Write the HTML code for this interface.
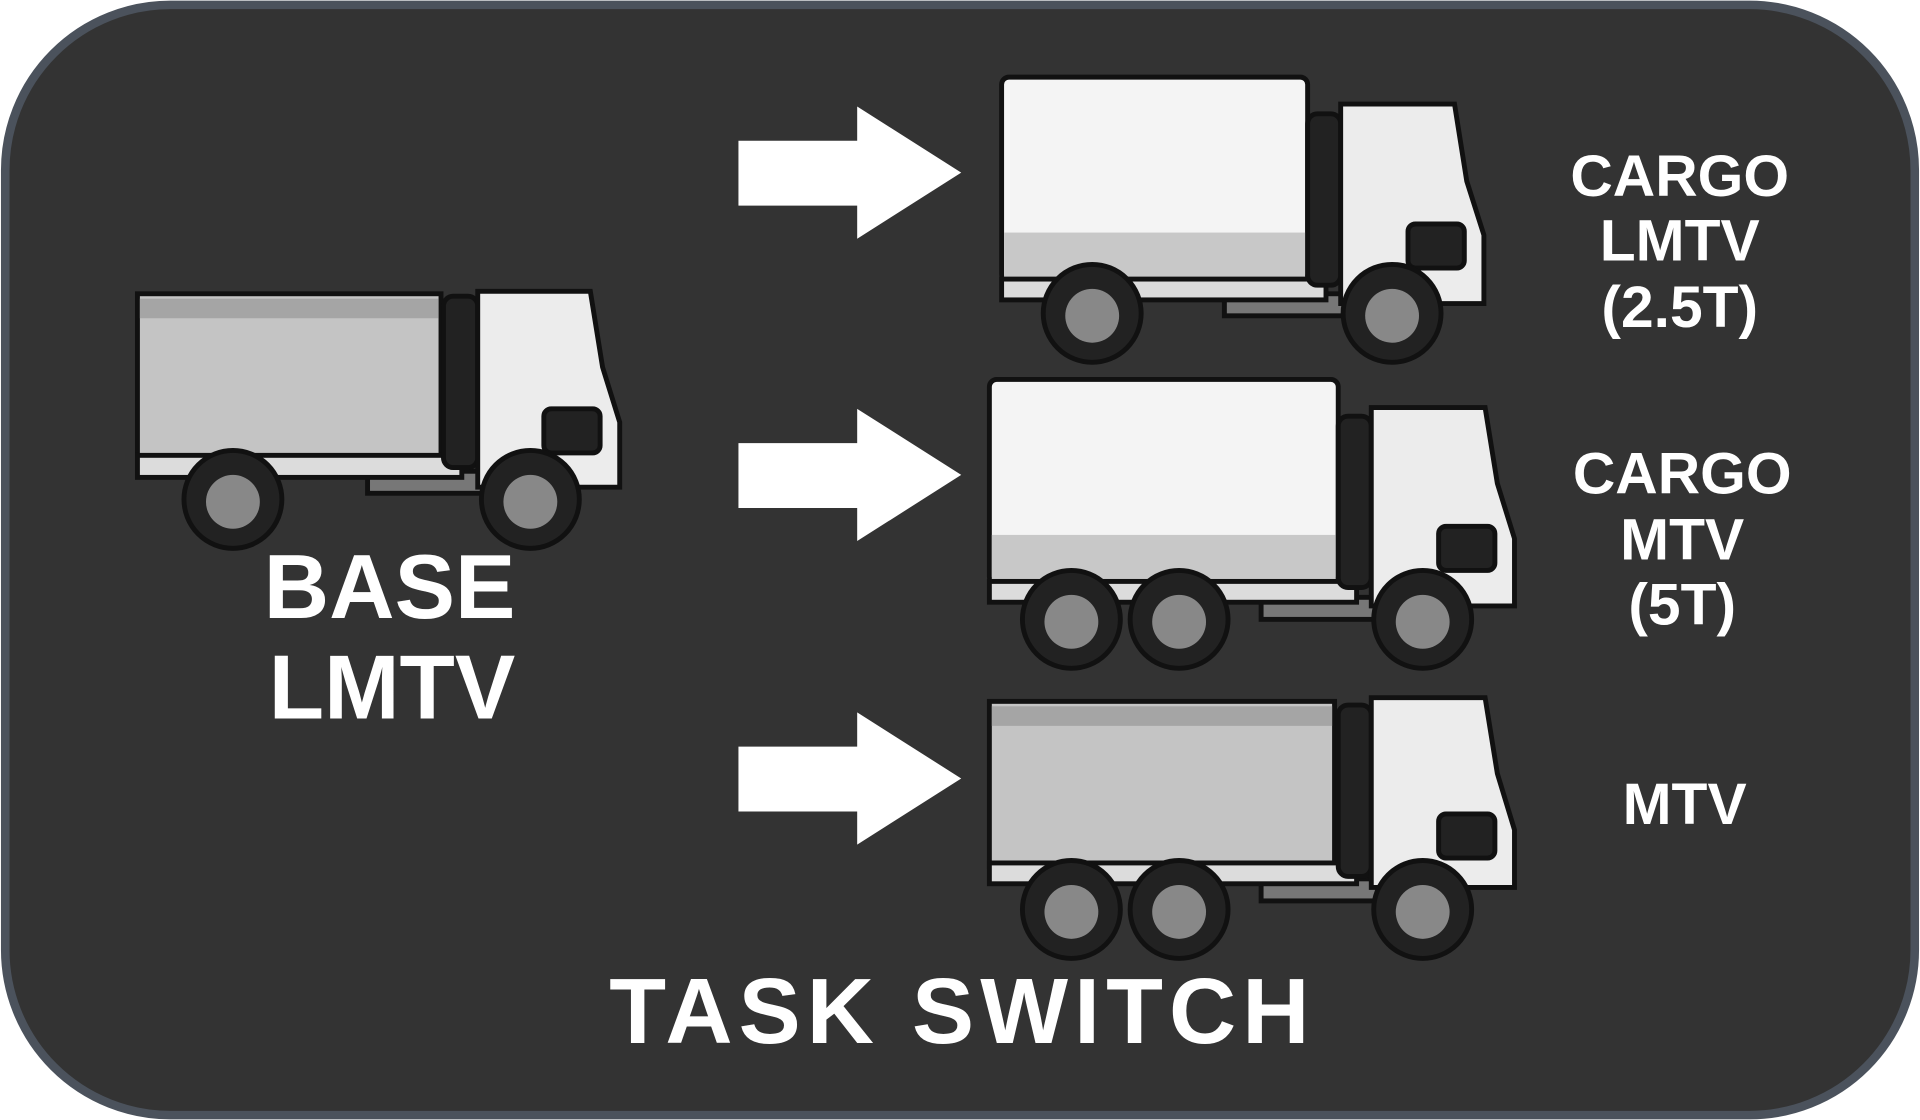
<!DOCTYPE html>
<html><head><meta charset="utf-8"><style>
html,body{margin:0;padding:0;background:#fff;width:1920px;height:1120px;overflow:hidden}
svg{display:block}
text{font-family:"Liberation Sans",sans-serif;font-weight:bold;fill:#fff;text-anchor:middle}
</style></head><body>
<svg width="1920" height="1120" viewBox="0 0 1568 915" xmlns="http://www.w3.org/2000/svg">
<rect x="4" y="4" width="1560" height="907" rx="135" fill="#333333" stroke="#4b525c" stroke-width="7"/>
<g fill="#fff">
<polygon points="603,115 700,115 700,87 785,141 700,195 700,168 603,168"/>
<polygon points="603,362 700,362 700,334 785,388 700,442 700,415 603,415"/>
<polygon points="603,610 700,610 700,582 785,636 700,690 700,663 603,663"/>
</g>
<g stroke="#111" stroke-width="4">
<rect x="300" y="385" width="110" height="18" fill="#777"/>
<rect x="112" y="240" width="248" height="135" fill="#c4c4c4"/>
<rect x="114" y="244" width="244" height="16" fill="#a5a5a5" stroke="none"/>
<rect x="112" y="372" width="265" height="18" fill="#dcdcdc"/>
<rect x="362" y="242" width="28" height="140" rx="8" fill="#222"/>
<polygon points="390,238 482,238 492,300 506,345 506,398 390,398" fill="#ececec"/>
<rect x="444" y="334" width="46" height="36" rx="6" fill="#222"/>
<circle cx="190" cy="408" r="40" fill="#222"/><circle cx="190" cy="410" r="22" fill="#888" stroke="none"/>
<circle cx="433" cy="408" r="40" fill="#222"/><circle cx="433" cy="410" r="22" fill="#888" stroke="none"/>
<rect x="1000" y="240" width="110" height="18" fill="#777"/>
<rect x="818" y="63" width="250" height="167" rx="6" fill="#f4f4f4"/>
<rect x="820" y="190" width="246" height="38" fill="#c8c8c8" stroke="none"/>
<rect x="818" y="228" width="265" height="17" fill="#dcdcdc"/>
<rect x="1068" y="93" width="27" height="140" rx="8" fill="#222"/>
<polygon points="1095,85 1188,85 1198,148 1212,192 1212,248 1095,248" fill="#ececec"/>
<rect x="1150" y="183" width="46" height="36" rx="6" fill="#222"/>
<circle cx="892" cy="256" r="40" fill="#222"/><circle cx="892" cy="258" r="22" fill="#888" stroke="none"/>
<circle cx="1137" cy="256" r="40" fill="#222"/><circle cx="1137" cy="258" r="22" fill="#888" stroke="none"/>
<rect x="1030" y="488" width="110" height="18" fill="#777"/>
<rect x="808" y="310" width="285" height="167" rx="6" fill="#f4f4f4"/>
<rect x="810" y="437" width="281" height="38" fill="#c8c8c8" stroke="none"/>
<rect x="808" y="475" width="300" height="17" fill="#dcdcdc"/>
<rect x="1093" y="340" width="27" height="140" rx="8" fill="#222"/>
<polygon points="1120,333 1213,333 1223,395 1237,440 1237,495 1120,495" fill="#ececec"/>
<rect x="1175" y="430" width="46" height="36" rx="6" fill="#222"/>
<circle cx="875" cy="506" r="40" fill="#222"/><circle cx="875" cy="508" r="22" fill="#888" stroke="none"/>
<circle cx="963" cy="506" r="40" fill="#222"/><circle cx="963" cy="508" r="22" fill="#888" stroke="none"/>
<circle cx="1162" cy="506" r="40" fill="#222"/><circle cx="1162" cy="508" r="22" fill="#888" stroke="none"/>
<rect x="1030" y="718" width="110" height="18" fill="#777"/>
<rect x="808" y="573" width="282" height="135" fill="#c4c4c4"/>
<rect x="810" y="577" width="278" height="16" fill="#a5a5a5" stroke="none"/>
<rect x="808" y="705" width="300" height="17" fill="#dcdcdc"/>
<rect x="1093" y="576" width="27" height="140" rx="8" fill="#222"/>
<polygon points="1120,570 1213,570 1223,632 1237,678 1237,725 1120,725" fill="#ececec"/>
<rect x="1175" y="665" width="46" height="36" rx="6" fill="#222"/>
<circle cx="875" cy="743" r="40" fill="#222"/><circle cx="875" cy="745" r="22" fill="#888" stroke="none"/>
<circle cx="963" cy="743" r="40" fill="#222"/><circle cx="963" cy="745" r="22" fill="#888" stroke="none"/>
<circle cx="1162" cy="743" r="40" fill="#222"/><circle cx="1162" cy="745" r="22" fill="#888" stroke="none"/>
</g>
<text x="318" y="505" font-size="74">BASE</text>
<text x="320" y="587" font-size="74">LMTV</text>
<text x="786" y="852" font-size="76" letter-spacing="5">TASK SWITCH</text>
<g font-size="48">
<text x="1372" y="160">CARGO</text><text x="1372" y="213">LMTV</text><text x="1372" y="267">(2.5T)</text>
<text x="1374" y="403">CARGO</text><text x="1374" y="457">MTV</text><text x="1374" y="510">(5T)</text>
<text x="1376" y="673">MTV</text>
</g>
</svg>
</body></html>
